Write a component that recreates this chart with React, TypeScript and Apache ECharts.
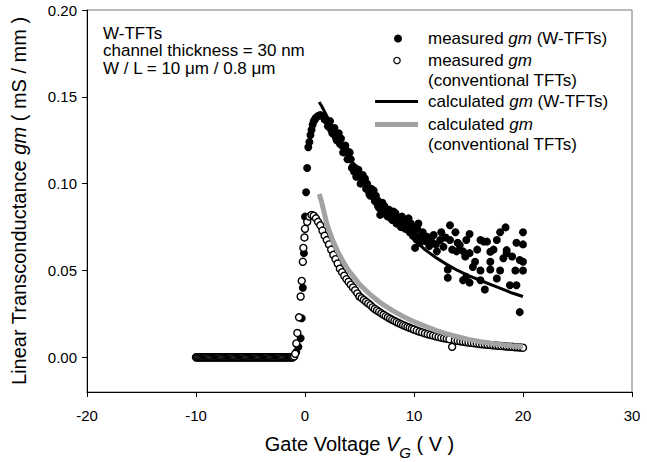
import { useEffect, useRef } from 'react';
import * as echarts from 'echarts';

const FONT = '"Liberation Sans", Arial, Helvetica, sans-serif';

const xTicks = [-20, -10, 0, 10, 20, 30];
const yTicks = [0, 0.05, 0.1, 0.15, 0.2];

// off-state part of the sweep (both devices read as 0)
const offStateW: [number, number][] = [
  [-10, 0], [-9.8, 0], [-9.6, 0], [-9.4, 0], [-9.2, 0], [-9, 0], [-8.8, 0], [-8.6, 0], [-8.4, 0], [-8.2, 0],
  [-8, 0], [-7.8, 0], [-7.6, 0], [-7.4, 0], [-7.2, 0], [-7, 0], [-6.8, 0], [-6.6, 0], [-6.4, 0], [-6.2, 0],
  [-6, 0], [-5.8, 0], [-5.6, 0], [-5.4, 0], [-5.2, 0], [-5, 0], [-4.8, 0], [-4.6, 0], [-4.4, 0], [-4.2, 0],
  [-4, 0], [-3.8, 0], [-3.6, 0], [-3.4, 0], [-3.2, 0], [-3, 0], [-2.8, 0], [-2.6, 0], [-2.4, 0], [-2.2, 0],
  [-2, 0], [-1.8, 0], [-1.6, 0], [-1.4, 0], [-1.2, 0],
];
const offStateConv: [number, number][] = [
  [-10, 0], [-9.9, 0], [-9.8, 0], [-9.7, 0], [-9.6, 0], [-9.5, 0], [-9.4, 0], [-9.3, 0], [-9.2, 0], [-9.1, 0],
  [-9, 0], [-8.9, 0], [-8.8, 0], [-8.7, 0], [-8.6, 0], [-8.5, 0], [-8.4, 0], [-8.3, 0], [-8.2, 0], [-8.1, 0],
  [-8, 0], [-7.9, 0], [-7.8, 0], [-7.7, 0], [-7.6, 0], [-7.5, 0], [-7.4, 0], [-7.3, 0], [-7.2, 0], [-7.1, 0],
  [-7, 0], [-6.9, 0], [-6.8, 0], [-6.7, 0], [-6.6, 0], [-6.5, 0], [-6.4, 0], [-6.3, 0], [-6.2, 0], [-6.1, 0],
  [-6, 0], [-5.9, 0], [-5.8, 0], [-5.7, 0], [-5.6, 0], [-5.5, 0], [-5.4, 0], [-5.3, 0], [-5.2, 0], [-5.1, 0],
  [-5, 0], [-4.9, 0], [-4.8, 0], [-4.7, 0], [-4.6, 0], [-4.5, 0], [-4.4, 0], [-4.3, 0], [-4.2, 0], [-4.1, 0],
  [-4, 0], [-3.9, 0], [-3.8, 0], [-3.7, 0], [-3.6, 0], [-3.5, 0], [-3.4, 0], [-3.3, 0], [-3.2, 0], [-3.1, 0],
  [-3, 0], [-2.9, 0], [-2.8, 0], [-2.7, 0], [-2.6, 0], [-2.5, 0], [-2.4, 0], [-2.3, 0], [-2.2, 0], [-2.1, 0],
  [-2, 0], [-1.9, 0], [-1.8, 0], [-1.7, 0], [-1.6, 0], [-1.5, 0], [-1.4, 0], [-1.3, 0], [-1.2, 0], [-1.1, 0],
];

// measured gm (W-TFTs)
const measuredW: [number, number][] = [
  [-1.0, 0.001], [-0.8, 0.003], [-0.6, 0.006], [-0.4, 0.011], [-0.3, 0.0225], [-0.2, 0.04], [-0.1, 0.06],
  [0.0, 0.081], [0.1, 0.095], [0.2, 0.109], [0.3, 0.121], [0.4, 0.124], [0.5, 0.128], [0.6, 0.131],
  [0.7, 0.134], [0.8, 0.136], [0.9, 0.137], [1.0, 0.138], [1.2, 0.139], [1.4, 0.1395], [1.6, 0.139],
  [1.8, 0.137], [2.0, 0.136], [2.1, 0.133], [2.2, 0.135], [2.3, 0.136], [2.4, 0.131], [2.5, 0.129],
  [2.6, 0.131], [2.7, 0.132], [2.8, 0.127], [2.9, 0.125], [3.0, 0.127], [3.1, 0.129], [3.2, 0.123],
  [3.3, 0.126], [3.4, 0.122], [3.5, 0.118], [3.6, 0.119], [3.7, 0.122], [3.8, 0.119], [3.9, 0.114],
  [4.0, 0.115], [4.1, 0.118], [4.2, 0.114], [4.3, 0.109], [4.4, 0.11], [4.5, 0.107], [4.6, 0.109],
  [4.7, 0.104], [4.8, 0.105], [4.9, 0.108], [5.0, 0.105], [5.1, 0.1], [5.2, 0.101], [5.3, 0.105],
  [5.4, 0.101], [5.5, 0.103], [5.6, 0.097], [5.7, 0.1], [5.8, 0.097], [5.9, 0.094], [6.0, 0.093],
  [6.1, 0.097], [6.2, 0.094], [6.3, 0.096], [6.4, 0.09], [6.5, 0.093], [6.6, 0.089], [6.7, 0.087],
  [6.8, 0.086], [6.9, 0.082], [7.0, 0.087], [7.1, 0.089], [7.2, 0.083], [7.3, 0.087], [7.4, 0.085],
  [7.5, 0.082], [7.6, 0.081], [7.7, 0.085], [7.8, 0.083], [7.9, 0.08], [8.0, 0.079], [8.1, 0.084],
  [8.2, 0.081], [8.3, 0.083], [8.4, 0.077], [8.5, 0.08], [8.6, 0.079], [8.7, 0.076], [8.8, 0.075],
  [8.9, 0.081], [9.0, 0.078], [9.1, 0.077], [9.2, 0.074], [9.3, 0.079], [9.4, 0.076], [9.5, 0.08],
  [9.6, 0.072], [9.7, 0.077], [9.8, 0.075], [9.9, 0.07], [10.0, 0.071], [10.1, 0.063], [10.2, 0.068],
  [10.3, 0.074], [10.4, 0.077], [10.5, 0.066], [10.6, 0.07], [10.8, 0.072], [11.0, 0.067], [11.2, 0.0694],
  [11.4, 0.064], [11.6, 0.0666], [11.8, 0.0704], [12.0, 0.065], [12.1, 0.061], [12.4, 0.0675], [12.5, 0.072],
  [12.7, 0.0636], [12.9, 0.069], [13.1, 0.0506], [13.1, 0.0458], [13.3, 0.076], [13.3, 0.0675], [13.5, 0.062],
  [13.8, 0.072], [13.9, 0.061], [14.0, 0.066], [14.2, 0.0646], [14.5, 0.061], [14.5, 0.0444], [14.7, 0.058],
  [14.8, 0.0675], [14.8, 0.0463], [15.1, 0.071], [15.1, 0.06], [15.1, 0.043], [15.4, 0.052], [15.6, 0.055],
  [15.8, 0.062], [16.1, 0.0675], [16.1, 0.05], [16.1, 0.0444], [16.4, 0.0666], [16.5, 0.039], [16.7, 0.0666],
  [17.0, 0.0608], [17.0, 0.055], [17.0, 0.0506], [17.3, 0.062], [17.6, 0.0675], [17.6, 0.0454], [17.9, 0.072],
  [17.9, 0.05], [18.2, 0.057], [18.4, 0.0748], [18.5, 0.0617], [18.5, 0.06], [18.8, 0.0415], [19.0, 0.058],
  [19.3, 0.05], [19.4, 0.066], [19.4, 0.0415], [19.7, 0.056], [19.7, 0.026], [20.0, 0.065], [20.0, 0.055],
  [20.0, 0.072], [20.0, 0.05],
];

// measured gm (conventional TFTs)
const measuredConv: [number, number][] = [
  [-1.0, 0.0005], [-0.9, 0.002], [-0.8, 0.008], [-0.7, 0.014], [-0.55, 0.023], [-0.4, 0.035], [-0.3, 0.044],
  [-0.2, 0.055], [-0.15, 0.063], [-0.05, 0.069], [0.0, 0.074], [0.2, 0.078], [0.4, 0.081],
  [0.6, 0.082], [0.8, 0.0815], [1.0, 0.08], [1.2, 0.078], [1.4, 0.076], [1.6, 0.073], [1.8, 0.07],
  [2.0, 0.0675], [2.2, 0.065], [2.4, 0.062], [2.6, 0.059], [2.8, 0.0565], [3.0, 0.054], [3.2, 0.051],
  [3.4, 0.049], [3.6, 0.047], [3.8, 0.045], [4.0, 0.0435], [4.2, 0.0418], [4.4, 0.0402], [4.6, 0.0386],
  [4.8, 0.0368], [5.0, 0.035], [5.2, 0.034], [5.4, 0.033], [5.6, 0.032], [5.8, 0.031], [6.0, 0.03],
  [6.2, 0.0288], [6.4, 0.0278], [6.6, 0.027], [6.8, 0.0262], [7.0, 0.0253], [7.2, 0.0245], [7.4, 0.0237],
  [7.6, 0.023], [7.8, 0.0223], [8.0, 0.0216], [8.2, 0.0209], [8.4, 0.0203], [8.6, 0.0197], [8.8, 0.0191],
  [9.0, 0.0185], [9.2, 0.018], [9.4, 0.0175], [9.6, 0.017], [9.8, 0.0165], [10.0, 0.016], [10.25, 0.0154],
  [10.5, 0.0148], [10.75, 0.0143], [11.0, 0.0138], [11.25, 0.0133], [11.5, 0.0129], [11.75, 0.0125],
  [12.0, 0.0121], [12.25, 0.0117], [12.5, 0.0113], [12.75, 0.011], [13.0, 0.0107], [13.25, 0.0104],
  [13.5, 0.006], [13.75, 0.0098], [14.0, 0.0095], [14.25, 0.0092], [14.5, 0.009], [14.75, 0.0088],
  [15.0, 0.0085], [15.25, 0.0083], [15.5, 0.0081], [15.75, 0.0079], [16.0, 0.0077], [16.25, 0.0075],
  [16.5, 0.0074], [16.75, 0.0072], [17.0, 0.0071], [17.25, 0.0069], [17.5, 0.0068], [17.75, 0.0066],
  [18.0, 0.0065], [18.25, 0.0064], [18.5, 0.0062], [18.75, 0.0061], [19.0, 0.006], [19.25, 0.0058],
  [19.5, 0.0057], [19.75, 0.0056], [20.0, 0.0055],
];

// calculated gm (W-TFTs)
const calculatedW: [number, number][] = [
  [1.3, 0.147], [1.5, 0.145], [2, 0.139], [2.5, 0.133], [3, 0.127], [3.5, 0.121], [4, 0.116],
  [5, 0.106], [6, 0.097], [7, 0.09], [8, 0.082], [9, 0.0745], [10, 0.068], [11, 0.062], [12, 0.0575],
  [13, 0.0535], [14, 0.05], [15, 0.047], [16, 0.0445], [17, 0.042], [18, 0.0395], [19, 0.037], [20, 0.035],
];

// calculated gm (conventional TFTs)
const calculatedConv: [number, number][] = [
  [1.3, 0.094], [1.5, 0.09], [2, 0.077], [2.5, 0.068], [3, 0.061], [3.5, 0.055], [4, 0.05], [4.5, 0.046],
  [5, 0.042], [6, 0.036], [7, 0.031], [8, 0.027], [9, 0.0235], [10, 0.0205], [11, 0.018], [12, 0.0155],
  [13, 0.0135], [14, 0.0118], [15, 0.0103], [16, 0.0091], [17, 0.0081], [18, 0.0073], [19, 0.0066], [20, 0.006],
];

const annotationLines = ['W-TFTs', 'channel thickness = 30 nm', 'W / L = 10 \u03BCm / 0.8 \u03BCm'];

const legendTexts = [
  'measured {i|gm} (W-TFTs)',
  'measured {i|gm}',
  '(conventional TFTs)',
  'calculated {i|gm} (W-TFTs)',
  'calculated {i|gm}',
  '(conventional TFTs)',
];

const GRAY = '#a2a2a2';

function txt(x: number, y: number, text: string, size = 17) {
  return {
    type: 'text',
    x,
    y,
    style: {
      text,
      fill: '#000',
      fontSize: size,
      fontFamily: FONT,
      lineHeight: 16,
      verticalAlign: 'middle',
      align: 'left',
      rich: {
        i: { fontStyle: 'italic', fontSize: size, fontFamily: FONT, fill: '#000', lineHeight: 16 },
      },
    },
  };
}

export default function App() {
  const ref = useRef<HTMLDivElement>(null);
  useEffect(() => {
    const chart = echarts.init(ref.current!, null, { renderer: 'svg' });
    const legendY = [38.5, 60.5, 80.5, 101.5, 124.5, 144.5];
    const option: any = {
      animation: false,
      backgroundColor: '#fff',
      grid: {
        left: 87,
        right: 15,
        top: 10,
        bottom: 70,
        containLabel: false,
        outerBoundsMode: 'none',
        show: true,
        borderColor: '#777',
        borderWidth: 1,
      },
      xAxis: {
        type: 'value',
        min: xTicks[0],
        max: xTicks[xTicks.length - 1],
        interval: 10,
        name: 'Gate Voltage {i|V}{sub|G} ( V )',
        nameLocation: 'middle',
        nameGap: 33,
        nameTextStyle: {
          fontSize: 20,
          fontFamily: FONT,
          color: '#000',
          lineHeight: 32,
          rich: {
            i: { fontStyle: 'italic', fontSize: 20, fontFamily: FONT, color: '#000', lineHeight: 32 },
            sub: { fontStyle: 'italic', fontSize: 15, fontFamily: FONT, color: '#000', verticalAlign: 'bottom' },
          },
        },
        axisLine: { show: true, onZero: false, lineStyle: { color: '#000', width: 1 } },
        axisTick: { show: true, inside: false, length: 5, lineStyle: { color: '#000' } },
        axisLabel: { fontSize: 15, fontFamily: FONT, color: '#000', margin: 16 },
        splitLine: { show: false },
      },
      yAxis: {
        type: 'value',
        min: -0.02,
        max: 0.2,
        name: 'Linear Transconductance {i|gm} ( mS / mm )',
        nameLocation: 'middle',
        nameGap: 58,
        nameTextStyle: {
          fontSize: 20,
          fontFamily: FONT,
          color: '#000',
          rich: {
            i: { fontStyle: 'italic', fontSize: 20, fontFamily: FONT, color: '#000' },
          },
        },
        axisLine: { show: true, onZero: false, lineStyle: { color: '#000', width: 1 } },
        axisTick: { show: true, inside: false, length: 5, lineStyle: { color: '#000' }, customValues: yTicks },
        axisLabel: {
          fontSize: 15,
          fontFamily: FONT,
          color: '#000',
          margin: 10,
          customValues: yTicks,
          formatter: (v: number) => v.toFixed(2),
        },
        splitLine: { show: false },
      },
      series: [
        {
          name: 'measured gm (W-TFTs)',
          type: 'scatter',
          data: [...offStateW, ...measuredW],
          symbol: 'circle',
          symbolSize: 8,
          itemStyle: { color: '#000', opacity: 1 },
          z: 2,
        },
        {
          name: 'measured gm (conventional TFTs)',
          type: 'scatter',
          data: [...offStateConv, ...measuredConv],
          symbol: 'circle',
          symbolSize: 7,
          itemStyle: { color: '#fff', borderColor: '#000', borderWidth: 1.4, opacity: 1 },
          z: 3,
        },
        {
          name: 'calculated gm (conventional TFTs)',
          type: 'line',
          data: calculatedConv,
          showSymbol: false,
          symbol: 'none',
          lineStyle: { color: GRAY, width: 5 },
          z: 4,
        },
        {
          name: 'calculated gm (W-TFTs)',
          type: 'line',
          data: calculatedW,
          showSymbol: false,
          symbol: 'none',
          lineStyle: { color: '#000', width: 3 },
          z: 5,
        },
      ],
      graphic: [
        txt(103, 33, annotationLines[0]),
        txt(103, 50.5, annotationLines[1]),
        txt(103, 68, annotationLines[2]),
        { type: 'circle', shape: { cx: 398, cy: legendY[0], r: 4 }, style: { fill: '#000' } },
        { type: 'circle', shape: { cx: 397, cy: legendY[1], r: 3.2 }, style: { fill: '#fff', stroke: '#000', lineWidth: 1.2 } },
        { type: 'line', shape: { x1: 375, y1: legendY[3], x2: 418, y2: legendY[3] }, style: { stroke: '#000', lineWidth: 3 } },
        { type: 'line', shape: { x1: 375, y1: legendY[4], x2: 418, y2: legendY[4] }, style: { stroke: GRAY, lineWidth: 5 } },
        ...legendTexts.map((t, i) => txt(428, legendY[i], t)),
      ],
    };
    chart.setOption(option);
    return () => chart.dispose();
  }, []);
  return <div ref={ref} style={{ position: 'fixed', left: 0, top: 0, width: 647, height: 462 }} />;
}
